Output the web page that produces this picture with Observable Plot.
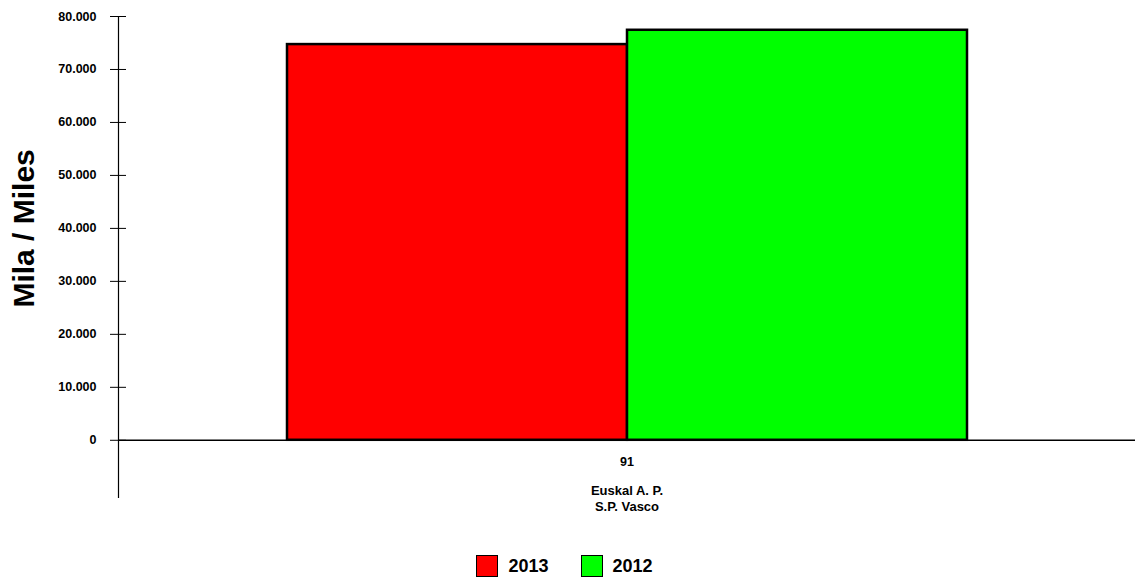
<!DOCTYPE html>
<html>
<head>
<meta charset="utf-8">
<script src="https://cdn.jsdelivr.net/npm/d3@7"></script>
<script src="https://cdn.jsdelivr.net/npm/@observablehq/plot@0.6"></script>
<style>
  html, body { margin: 0; padding: 0; background: #fff; }
  body { width: 1135px; height: 578px; overflow: hidden; font-family: "Liberation Sans", Arial, sans-serif; }
  #legend { display: flex; justify-content: center; align-items: center; margin-top: 10px; padding-right: 6px; font-weight: bold; font-size: 18px; color: #000; }
  .item { display: flex; align-items: center; margin: 0 16px; }
  .sw { width: 20px; height: 20px; border: 1.5px solid #000; margin-right: 10px; }
</style>
</head>
<body>
<div id="chart"></div>
<div id="legend"></div>
<script>
const years = ["2013", "2012"];
const values = [74700, 77400];
const colors = ["#ff0000", "#00ff00"];
const categories = ["91"];
const regionLabels = ["Euskal A. P.\nS.P. Vasco"];
const yTicks = [0, 10000, 20000, 30000, 40000, 50000, 60000, 70000, 80000];
const yLabel = "Mila / Miles";

const data = years.map((y, i) => ({year: y, value: values[i]}));
const fmt = d => d3.format(",")(d).replace(/,/g, ".");
const yMid = (yTicks[0] + yTicks[yTicks.length - 1]) / 2;

const chart = Plot.plot({
  width: 1135,
  height: 545,
  marginLeft: 118,
  marginRight: 0,
  marginTop: 16,
  marginBottom: 48,
  style: {fontFamily: "'Liberation Sans', Arial, sans-serif", color: "#000", background: "#fff"},
  x: {domain: years, paddingInner: 0, paddingOuter: 0.493, axis: null},
  y: {domain: [-10800, 80000], axis: null},
  color: {domain: years, range: colors},
  marks: [
    Plot.barY(data, {x: "year", y: "value", fill: "year", stroke: "#000", strokeWidth: 2.5}),
    Plot.ruleY([0], {stroke: "#000", strokeWidth: 1.5}),
    Plot.frame({anchor: "left", stroke: "#000", strokeWidth: 1.2}),
    Plot.axisY({ticks: yTicks, tickSize: 8, tickPadding: 14, tickFormat: fmt, fontSize: 12.5, fontWeight: "bold", label: null, stroke: "#000"}),
    Plot.axisY({ticks: yTicks, tickSize: -8, tickFormat: () => "", label: null, stroke: "#000"}),
    Plot.text([yLabel], {y: [yMid], frameAnchor: "left", dx: -94, rotate: -90, text: d => d, fontSize: 30, fontWeight: "bold", fill: "#000", textAnchor: "middle"}),
    Plot.text(categories, {y: [0], text: d => d, dy: 22, fontSize: 12.5, fontWeight: "bold", fill: "#000"}),
    Plot.text(regionLabels, {y: [0], text: d => d, dy: 58, lineHeight: 1.2, fontSize: 13, fontWeight: "bold", fill: "#000"})
  ]
});
document.getElementById("chart").appendChild(chart);

const legend = document.getElementById("legend");
years.forEach((y, i) => {
  const item = document.createElement("div");
  item.className = "item";
  const sw = document.createElement("div");
  sw.className = "sw";
  sw.style.background = colors[i];
  const t = document.createElement("span");
  t.textContent = y;
  item.appendChild(sw);
  item.appendChild(t);
  legend.appendChild(item);
});
</script>
</body>
</html>
